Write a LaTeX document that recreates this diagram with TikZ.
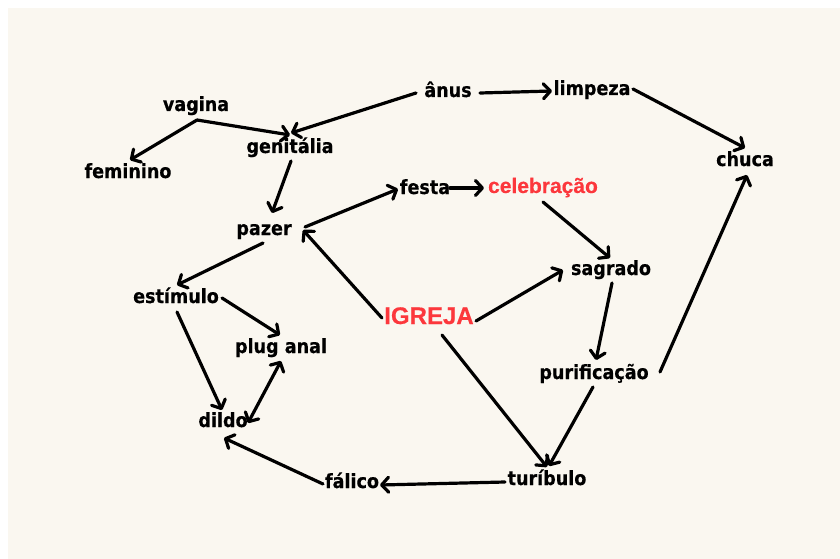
\documentclass[tikz,border=0pt]{standalone}
\usepackage{fontspec}
\setmainfont{DejaVu Sans}
\newfontfamily\labfont{DejaVu Sans Bold}[FakeStretch=0.9,FakeBold=0.5]
\newfontfamily\redfont{Liberation Sans}[BoldFeatures={FakeBold=0.4}]
\usetikzlibrary{arrows.meta}
\definecolor{creambg}{RGB}{250,247,240}
\definecolor{redc}{RGB}{252,55,60}
\begin{document}
\begin{tikzpicture}[x=1pt,y=-1pt,
  lab/.style={anchor=base, inner sep=0pt, font=\labfont\fontsize{19.5}{22}\selectfont},
  redtxt/.style={anchor=base, inner sep=0pt, text=redc, font=\redfont\fontsize{21}{24}\selectfont\bfseries},
  tipb/.tip={Straight Barb[length=7pt,width=15pt,line cap=round,line join=round]},
  arr/.style={line width=3.2pt, line cap=round, -tipb},
  darr/.style={line width=3.2pt, line cap=round, tipb-tipb}]
\useasboundingbox (0,0) rectangle (840,559);
\fill[creambg] (8,8) rectangle (840,559);

\node[lab] (vagina) at (196,111) {vagina};
\node[lab] (feminino) at (128,178) {feminino};
\node[lab] (genitalia) at (290,153) {genitália};
\node[lab] (anus) at (448,97) {ânus};
\node[lab] (limpeza) at (592,95) {limpeza};
\node[lab] (chuca) at (745,166) {chuca};
\node[lab] (pazer) at (264,235) {pazer};
\node[lab] (festa) at (425,194) {festa};
\node[redtxt] (celebracao) at (543,193) {celebração};
\node[lab] (sagrado) at (611,275) {sagrado};
\node[lab] (estimulo) at (176,303) {estímulo};
\node[lab] (plug) at (281,353) {plug anal};
\node[redtxt, font=\redfont\fontsize{24}{28}\selectfont\bfseries] (igreja) at (429,324) {IGREJA};
\node[lab] (purificacao) at (594,379) {purificação};
\node[lab] (dildo) at (223,427) {dildo};
\node[lab] (falico) at (352,488) {fálico};
\node[lab] (turibulo) at (547,485) {turíbulo};

\draw[arr] ([shift={(1,9)}]vagina.base) -- ([shift={(2,-18)}]feminino.base);
\draw[arr] ([shift={(1,9)}]vagina.base) -- ([shift={(0,-18)}]genitalia.base);
\draw[arr] ([shift={(-32,-4)}]anus.base) -- ([shift={(1,-20)}]genitalia.base);
\draw[arr] ([shift={(32,-4)}]anus.base) -- ([shift={(-40,-4)}]limpeza.base);
\draw[arr] ([shift={(41,-6)}]limpeza.base) -- ([shift={(0,-18)}]chuca.base);
\draw[arr] ([shift={(1,8)}]genitalia.base) -- ([shift={(8,-22)}]pazer.base);
\draw[arr] ([shift={(-1,8)}]pazer.base) -- ([shift={(1,-18)}]estimulo.base);
\draw[arr] ([shift={(-47,-6)}]igreja.base) -- ([shift={(39,-5)}]pazer.base);
\draw[arr] ([shift={(41,-8)}]pazer.base) -- ([shift={(-27,-5)}]festa.base);
\draw[arr] ([shift={(25,-6)}]festa.base) -- ([shift={(-59,-5)}]celebracao.base);
\draw[arr] ([shift={(0,9)}]celebracao.base) -- ([shift={(-1,-17)}]sagrado.base);
\draw[arr] ([shift={(47,-3)}]igreja.base) -- ([shift={(-48,-5)}]sagrado.base);
\draw[arr] ([shift={(13,11)}]igreja.base) -- ([shift={(0,-18)}]turibulo.base);
\draw[arr] ([shift={(1,8)}]sagrado.base) -- ([shift={(2,-19)}]purificacao.base);
\draw[arr] ([shift={(66,-7)}]purificacao.base) -- ([shift={(2,9)}]chuca.base);
\draw[arr] ([shift={(-1,8)}]purificacao.base) -- ([shift={(2,-19)}]turibulo.base);
\draw[arr] ([shift={(-42,-3)}]turibulo.base) -- ([shift={(28,-3)}]falico.base);
\draw[arr] ([shift={(-29,-4)}]falico.base) -- ([shift={(1,11)}]dildo.base);
\draw[arr] ([shift={(46,-5)}]estimulo.base) -- ([shift={(-1,-18)}]plug.base);
\draw[arr] ([shift={(1,9)}]estimulo.base) -- ([shift={(-1,-17)}]dildo.base);
\draw[darr] ([shift={(0,8)}]plug.base) -- ([shift={(25,-4)}]dildo.base);
\end{tikzpicture}
\end{document}
